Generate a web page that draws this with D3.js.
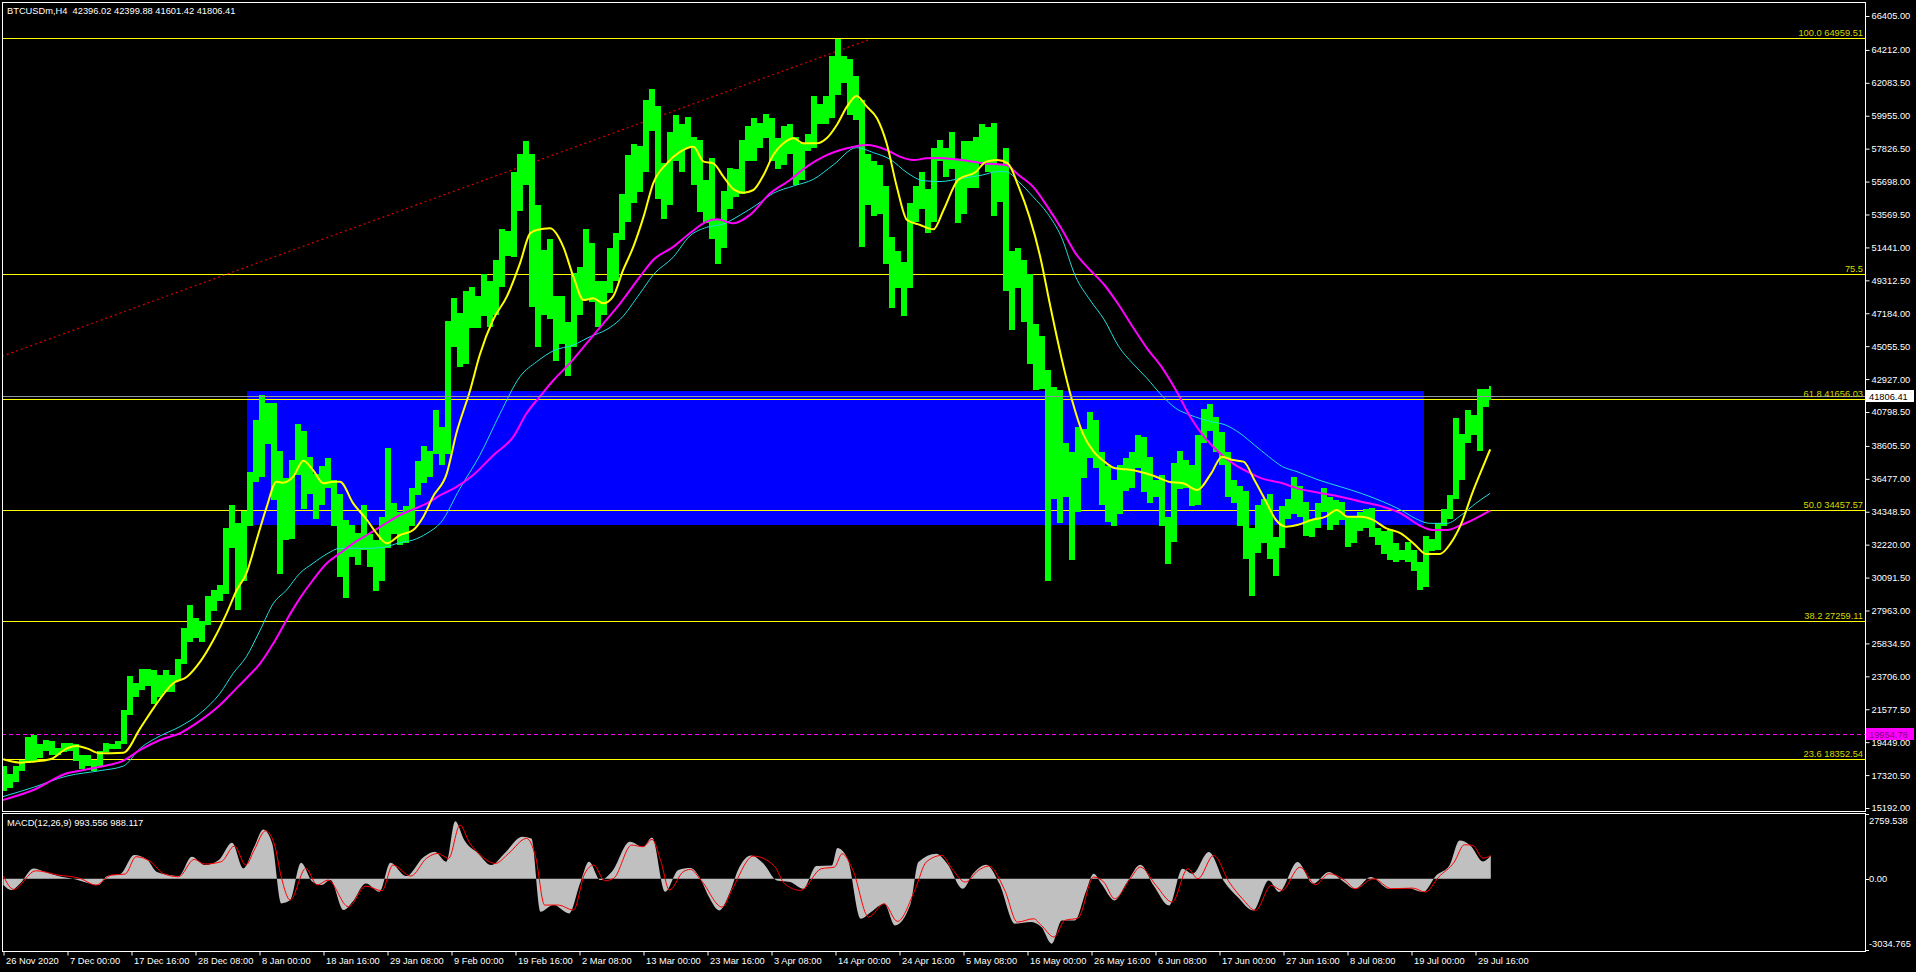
<!DOCTYPE html>
<html><head><meta charset="utf-8">
<script src="https://cdn.jsdelivr.net/npm/d3@7"></script>
<style>
html,body{margin:0;padding:0;background:#000;overflow:hidden;}
svg{display:block;}
text{font-family:"Liberation Sans",Arial,sans-serif;font-size:9.3px;fill:#fff;}
</style></head><body>
<svg id="chart" width="1916" height="972"></svg>
<script>
// ---------------- DATA ----------------
const symbolTitle = "BTCUSDm,H4  42396.02 42399.88 41601.42 41806.41";
const macdTitle = "MACD(12,26,9) 993.556 988.117";
const firstDay = "2020-11-26"; // daily index 0
// daily high / low (H4 bars grouped per day), index = days since 26 Nov 2020
const dayHigh = [
17900,17400,17900,18300,19800,19900,19350,19600,19500,19100,
19400,19400,19300,18600,18600,18300,18900,19400,19300,19500,
21500,23700,23300,24200,24200,24100,23800,24100,23800,24800,
26800,28300,27500,27300,28900,29300,29600,33300,34800,33600,
34400,36900,40300,41900,41400,41400,38300,36500,37700,40000,
39600,37900,36800,37300,37800,36400,35500,33800,33500,33000,
34800,32900,32500,34000,38500,34900,34300,34700,35900,37600,
38600,38300,40900,39800,46700,48200,47200,48600,48900,48300,
49700,49300,50600,52600,52500,56300,57500,58300,57500,54200,
51300,52000,48300,48300,46600,49800,50200,52600,51700,49300,
49300,51400,52400,54900,57400,58100,58000,61000,61700,60600,
56900,58900,60000,59400,59900,58600,58400,55800,57200,53200,
55100,56600,56500,58400,59300,59800,59500,60100,59800,58500,
59300,59400,58600,58200,58800,61200,60700,61200,63800,64900,
63800,63600,62500,61000,57500,57000,56800,55400,52100,51200,
50500,54300,55400,56300,55200,57900,58400,57900,58900,57100,
58300,58300,58600,59400,59200,59500,56800,57900,51200,51400,
50600,49700,46500,45700,43500,42400,42200,38800,38200,39800,
39700,40800,40300,38200,37300,36400,37400,37800,38200,39300,
39200,37900,36400,36700,34000,37500,38300,37700,37400,39300,
41000,41300,40500,39500,38200,36400,36000,35700,33300,34800,
35200,35500,32700,34700,35200,36600,36000,35000,33900,34900,
35900,35300,35100,35000,34000,34100,34300,34500,34600,33300,
33100,33200,32300,31900,32400,31900,31100,32800,32600,33600,
34500,35400,40400,39400,40900,40600,42300,42300,42450];
const dayLow = [
16300,16500,16900,17600,18100,18200,18400,18900,18600,18600,
18800,18900,18200,17700,17900,17600,17900,18800,19000,19000,
19300,21200,22400,22800,23100,21900,22400,22700,22700,23400,
24500,25900,26200,25900,27000,27900,28600,29000,32000,28000,
29900,33400,36300,36600,38700,35100,30300,32500,32600,36700,
34500,35500,33900,34800,35900,33400,30100,28800,31400,30900,
31900,30800,29200,29900,32000,32900,32200,32300,33400,35400,
36200,36600,38100,37400,38100,45000,43700,43900,46200,46200,
47000,46300,47100,48900,50900,50800,53800,55500,47600,45000,
47100,46800,44100,45200,43100,45000,47100,48100,47900,46300,
47100,48500,49300,51900,53100,54300,55000,56300,59000,54600,
53300,54200,57000,56300,57900,55500,53700,53000,52000,50400,
51400,53900,54700,54900,57000,57000,57900,58500,57000,56500,
56800,57500,55500,55800,57700,57900,59400,59400,59800,61300,
62100,60000,59700,51500,54200,53500,53600,50400,47500,48800,
47000,48800,53100,53900,52400,53100,57000,56000,56500,53000,
53600,55300,55300,56900,56300,53500,54400,48600,46100,48800,
46600,43900,42200,42300,29900,35200,33600,35300,31200,34300,
36500,37800,37200,34800,33700,33400,34200,35700,35900,37200,
35600,34900,35300,33400,31000,32400,35800,35900,34700,34800,
38800,39600,38200,37400,35300,34900,33400,31300,28900,31700,
32300,31300,30200,32000,33900,34200,34000,32800,32700,33300,
34300,33200,33500,33800,32100,32300,33100,33300,32700,32200,
31600,31200,31100,31200,31100,30500,29300,29500,31800,31900,
33400,33900,35200,36400,38800,39300,38300,41100,41600];

// moving averages: [day since 26 Nov 2020, price]
const yellowMA = [[0.4,18340],[3.2,18124],[5.4,18188],[8.2,18340],[11,19050],[12.6,19202],[14.3,19050],[16.5,18727],[20.4,18770],[23.2,20343],[25.4,21637],[28.7,23254],[31,23685],[33.2,24655],[35.4,26056],[37.6,27780],[39.3,29289],[40.9,30367],[42.6,32522],[44.3,34678],[45.9,36294],[47,36230],[48.7,36617],[50.4,37652],[52,37048],[53.7,36186],[55.4,36294],[56.5,36294],[58.7,34893],[61,33815],[62.6,32953],[64.3,32306],[66.5,32845],[68.7,33169],[70.4,34031],[72,35324],[74.3,36833],[75.9,39419],[78.2,42221],[79.8,44500],[82,46748],[84.3,48257],[86.5,50412],[88.2,52352],[89.3,52567],[91.5,52675],[93.7,51490],[95.4,49550],[97.1,48041],[98.7,48149],[100.4,47826],[102,48257],[103.7,49981],[105.4,51490],[107.1,53430],[108.7,55585],[111,56878],[113.2,57633],[115.4,57956],[117.1,56986],[118.7,56878],[120.4,56016],[122.1,55197],[123.7,54982],[125.4,55154],[127.1,56124],[128.7,57417],[130.4,58172],[132.1,58495],[133.7,58172],[136,58172],[137.6,58495],[139.3,59357],[141,60543],[142.6,61232],[144.3,60543],[146,59788],[147.6,58172],[149.3,55370],[151,53214],[153.2,52891],[155.4,52611],[157.1,53861],[159.5,55800],[162.5,56339],[164.2,56986],[166,57093],[167.8,56878],[169.6,55369],[171.4,53429],[173.2,50843],[174.9,47610],[176.7,44377],[178.5,41575],[180.3,39419],[182.1,38234],[183.9,37587],[185.7,37156],[187.5,37091],[189.8,36940],[192.2,36660],[194.6,36294],[197,36186],[199.4,35755],[201.7,36833],[203.5,37911],[205.3,37695],[207.1,37587],[208.9,36401],[210.7,35108],[212.5,33815],[214.2,33384],[216,33491],[218.4,33815],[220.8,34030],[222.6,34462],[224.4,34030],[226.7,34030],[228.5,33858],[230.9,33276],[233.3,32953],[235.7,32198],[237.5,31616],[239.8,31616],[241.6,32306],[243.4,33600],[245.2,35540],[247,37264],[248.2,38385]];
const cyanMA = [[0.3,15925],[5.4,16528],[11,17261],[16.5,17606],[20.4,17908],[23.2,19050],[26.5,19848],[29.8,20450],[33.2,21314],[36.5,22607],[38.7,23900],[40.9,24978],[43.2,26703],[45.4,28427],[47.6,29289],[49.8,30367],[52,31013],[54.3,31617],[56.5,31983],[58.7,31983],[61,31983],[63.7,32048],[66.5,32350],[68.7,32522],[71,32953],[73.3,33650],[76.5,35863],[79.8,38000],[83.2,40713],[86.5,43084],[89.3,44054],[92.1,44765],[95.4,45131],[98.2,45670],[101,46145],[103.2,46791],[106.5,48472],[108.7,49658],[112.1,50843],[114.8,52180],[117.6,52740],[120.4,52956],[123.2,53536],[125.9,54184],[128.7,54939],[132.1,55413],[135.4,55844],[138.7,56771],[142.6,57891],[145.4,57568],[148.2,57137],[151,56275],[153.7,55758],[156.5,55700],[160.1,55908],[163.6,56124],[166,56339],[167.5,56339],[169.6,55692],[172,54722],[174.4,53645],[176.7,52136],[179.1,49549],[181.5,48041],[183.9,46747],[186.3,45023],[188.6,43945],[191,42975],[193.4,41898],[195.8,41036],[198.2,40604],[201.7,40174],[204.1,39958],[206.5,39419],[208.9,38665],[211.3,37910],[213.6,37264],[216,36940],[219.6,36402],[223.2,35970],[226.7,35539],[230.3,35000],[233.3,34462],[235.7,33923],[238.1,33600],[241,33600],[243.4,34138],[245.8,34893],[248.2,35539]];
const magentaMA = [[0.3,15710],[5.4,16356],[11,17434],[13.7,17650],[16.5,17865],[20.4,18253],[23.2,18943],[26.5,19590],[29.8,20021],[33.2,20840],[36.5,21852],[38.7,22716],[40.9,23579],[43.2,24547],[45.4,25840],[47.6,27350],[49.8,28750],[52,29936],[54.3,31013],[56.5,31660],[58.7,32306],[61,32845],[63.7,33492],[66.5,34139],[68.7,34505],[71,34893],[73.3,35432],[75.5,35863],[78.7,36725],[82.1,38019],[85.4,39204],[87.6,40713],[89.8,41791],[92.1,42868],[94.8,43946],[97.6,45239],[100.4,46532],[103.2,47826],[106.5,49550],[108.7,50628],[112.1,51490],[114.8,52352],[117.6,53106],[119.3,53257],[122.1,52999],[124.8,53536],[128.2,54939],[131.5,55801],[134.3,56663],[137.1,57310],[141,57848],[144.3,58064],[147.6,57741],[149.8,57310],[152.1,57094],[154.3,57202],[156.5,57230],[160.1,57093],[163.6,56878],[167.5,56770],[169.6,56123],[172,55369],[174.4,54076],[176.7,52675],[179.1,51058],[181.5,49980],[183.9,49011],[186.3,47718],[188.6,46316],[191,44915],[193.4,43730],[195.8,42221],[198.2,40497],[200.5,39203],[202.9,38233],[205.3,37479],[207.7,36940],[210.1,36509],[213.6,36186],[216,35862],[219.6,35582],[223.2,35324],[226.7,35000],[230.3,34677],[233.3,34246],[236.3,33492],[238.6,33168],[241,33168],[243.4,33492],[245.8,33922],[248.2,34418]];

// MACD main (histogram) and signal: [day, value]
const macdMain = [[0.4,-268],[1.7,-481],[3.2,-197],[5.4,442],[7.3,300],[9.5,115],[12.5,-27],[14.7,-197],[16.2,-268],[17.7,115],[19.9,200],[22.2,1010],[24.4,797],[25.9,300],[28.1,158],[29.6,115],[31.8,939],[34,584],[36.3,797],[38.5,1535],[40.4,442],[42.2,1365],[43.7,2103],[45.2,1507],[46.7,-1049],[48.2,-907],[50,683],[51.9,-126],[53.4,-268],[54.9,-55],[57.1,-1333],[58.6,-978],[60.8,-197],[63.1,-552],[64.9,683],[67.5,115],[70.5,939],[72.3,1152],[74.2,726],[75.7,2450],[77.2,1649],[79.5,1081],[81.7,584],[83.9,1081],[86.9,1791],[88.4,1720],[89.9,-1404],[92.1,-1120],[94.7,-1475],[96.5,-197],[98,726],[99.9,-55],[101.8,300],[104.8,1578],[107,1365],[108.5,1763],[110.7,-552],[112.9,371],[114.9,455],[116.7,-70],[118,-780],[119.7,-1348],[121.5,-567],[122.8,356],[125,995],[127.1,640],[129.3,-70],[131.5,-141],[133.7,-425],[135.9,541],[138.5,569],[139.4,1307],[141.1,853],[143.3,-1703],[145,-1419],[147.2,-1064],[149,-1987],[151.6,-1064],[152.9,711],[155.9,1066],[157.7,640],[160.3,-425],[162,214],[164.2,597],[166.4,-212],[169,-1916],[171.6,-1845],[173.4,-2058],[175.1,-2769],[176.8,-1774],[179,-1774],[180.8,-567],[182.1,214],[183.4,-212],[185.6,-922],[187.7,-141],[189.9,597],[192.1,-283],[194.7,-1135],[196.9,427],[198.6,214],[201.3,1137],[203.9,-141],[206.1,-780],[208.7,-1348],[211.3,-70],[213,-567],[216.1,711],[218.7,-212],[221.3,285],[223.5,-70],[225.7,-425],[228.3,72],[231.3,-425],[234.4,-397],[237,-567],[239.2,143],[241.4,569],[243.1,1634],[244.9,1421],[247,739],[248.3,994]];
const macdSignal = [[0.4,115],[2.1,-453],[5.8,343],[9.5,158],[13.2,16],[15.8,-268],[18.4,158],[20.7,200],[22.5,939],[25.1,698],[27,229],[29.6,87],[32.2,825],[34,627],[36.7,726],[38.9,1393],[40.8,584],[42.2,1223],[44.1,2047],[45.6,1436],[46.7,87],[48.2,-907],[50.8,442],[52.7,-268],[54.5,-55],[57.9,-1191],[60.8,-311],[63.5,-509],[65.3,584],[68.3,115],[70.9,868],[72.8,1081],[74.6,868],[76.5,2288],[78,1578],[80.2,939],[82.4,655],[84.6,1081],[87.6,1720],[89.1,939],[90.6,-1120],[92.9,-1120],[95.4,-1333],[97.3,229],[98.8,584],[100.6,-83],[102.1,16],[105.1,1436],[107,1365],[108.5,1677],[110,726],[111.4,-481],[113.7,300],[114.9,399],[116.7,-70],[120.2,-1206],[121.9,-425],[125.4,967],[128.9,541],[130.6,-212],[133.3,-496],[136.7,427],[138.9,498],[140.2,1066],[142,356],[144.6,-1632],[147.2,-1064],[149.4,-1817],[152.4,-425],[154.2,711],[156.8,995],[158.5,427],[160.7,-141],[162.9,356],[164.6,541],[167.3,-496],[169.4,-1845],[172.1,-1703],[173.4,-1987],[175.5,-2484],[177.3,-1774],[179.5,-1675],[182.1,72],[183.8,-141],[185.6,-851],[188.2,1],[189.9,498],[192.5,-283],[195.2,-993],[197.8,427],[199.5,1],[202.1,995],[204.7,-141],[206.9,-851],[209.1,-1348],[211.7,-283],[213.5,-496],[216.5,498],[219.1,-255],[221.3,214],[224,-70],[225.7,-425],[228.7,1],[231.8,-425],[235.3,-397],[237.4,-567],[239.6,72],[242.2,711],[243.9,1449],[245.3,1421],[247,881],[248.3,988]];

// Fibonacci levels
const fibPrices = [64959.51, 49722, 41656.03, 34457.57, 27259.11, 18352.54];
const fibLabels = ["100.0 64959.51","75.5","61.8 41656.03","50.0 34457.57","38.2 27259.11","23.6 18352.54"];
// other objects
const bidPrice = 41806.41, bidLabel = "41806.41";
const hLinePrice = 19954.78, hLineLabel = "19954.78";
const zoneTimes = ["2021-01-06T00:00Z","2021-07-21T04:00Z"], zonePrices = [42156, 33492];
const trendTimes = ["2020-11-26T04:00Z","2021-04-19T20:00Z"], trendPrices = [44400, 64900];

// axis labels
const yTickLabels = ["66405.00","64212.00","62083.50","59955.00","57826.50","55698.00","53569.50","51441.00","49312.50","47184.00","45055.50","42927.00","40798.50","38605.50","36477.00","34348.50","32220.00","30091.50","27963.00","25834.50","23706.00","21577.50","19449.00","17320.50","15192.00"];
const xTickTimes = ["2020-11-26T08:00Z","2020-12-07T00:00Z","2020-12-17T16:00Z","2020-12-28T08:00Z","2021-01-08T00:00Z","2021-01-18T16:00Z","2021-01-29T08:00Z","2021-02-09T00:00Z","2021-02-19T16:00Z","2021-03-02T08:00Z","2021-03-13T00:00Z","2021-03-23T16:00Z","2021-04-03T08:00Z","2021-04-14T00:00Z","2021-04-24T16:00Z","2021-05-05T08:00Z","2021-05-16T00:00Z","2021-05-26T16:00Z","2021-06-06T08:00Z","2021-06-17T00:00Z","2021-06-27T16:00Z","2021-07-08T08:00Z","2021-07-19T00:00Z","2021-07-29T16:00Z"];
const xTickLabels = ["26 Nov 2020","7 Dec 00:00","17 Dec 16:00","28 Dec 08:00","8 Jan 00:00","18 Jan 16:00","29 Jan 08:00","9 Feb 00:00","19 Feb 16:00","2 Mar 08:00","13 Mar 00:00","23 Mar 16:00","3 Apr 08:00","14 Apr 00:00","24 Apr 16:00","5 May 08:00","16 May 00:00","26 May 16:00","6 Jun 08:00","17 Jun 00:00","27 Jun 16:00","8 Jul 08:00","19 Jul 00:00","29 Jul 16:00"];
const macdTickValues = [2759.538, 0, -3034.765];
const macdTickLabels = ["2759.538","0.00","-3034.765"];
const priceRange = [14998, 67310];
const macdRange = [-3034.765, 2759.538];

// ---------------- LAYOUT ----------------
const L = 2, R = 1865, T = 2, B = 811, MT = 813, MB = 951;
const HOUR = 3600e3, DAY = 864e5;
const t0 = Date.parse(firstDay + "T00:00Z");
const firstBar = t0 + 8 * HOUR;
const lastBarEnd = t0 + (248 * 24 + 8) * HOUR;
const dayDate = d => new Date(t0 + d * DAY);

const x = d3.scaleUtc().domain([new Date(t0), new Date(t0 + 1864 * 4 * HOUR)]).range([1, R]);
const y = d3.scaleLinear().domain(priceRange).range([B, T]);
const ym = d3.scaleLinear().domain(macdRange).range([MB - 1, MT + 1]);

const svg = d3.select("#chart");
svg.append("rect").attr("width", 1916).attr("height", 972).attr("fill", "#000");
const defs = svg.append("defs");
defs.append("clipPath").attr("id", "clipMain").append("rect")
  .attr("x", L + 1).attr("y", T + 1).attr("width", R - L - 1).attr("height", B - T - 1);
defs.append("clipPath").attr("id", "clipMacd").append("rect")
  .attr("x", L + 1).attr("y", MT + 1).attr("width", R - L - 1).attr("height", MB - MT - 1);

const main = svg.append("g").attr("clip-path", "url(#clipMain)");

// zone rectangle
main.append("rect")
  .attr("x", x(new Date(zoneTimes[0]))).attr("width", x(new Date(zoneTimes[1])) - x(new Date(zoneTimes[0])))
  .attr("y", y(zonePrices[0])).attr("height", y(zonePrices[1]) - y(zonePrices[0]))
  .attr("fill", "#0000ff").attr("shape-rendering", "crispEdges");

// fib lines
main.selectAll("line.fib").data(fibPrices).join("line")
  .attr("x1", L).attr("x2", R)
  .attr("y1", d => Math.round(y(d)) + 0.5).attr("y2", d => Math.round(y(d)) + 0.5)
  .attr("stroke", "#ffff00").attr("stroke-width", 1).attr("shape-rendering", "crispEdges");

// magenta dashed horizontal line
main.append("line").attr("x1", L).attr("x2", R)
  .attr("y1", Math.round(y(hLinePrice)) + 0.5).attr("y2", Math.round(y(hLinePrice)) + 0.5)
  .attr("stroke", "#ff00ff").attr("stroke-dasharray", "4,3").attr("shape-rendering", "crispEdges");

// trend line
main.append("line")
  .attr("x1", x(new Date(trendTimes[0]))).attr("y1", y(trendPrices[0]))
  .attr("x2", x(new Date(trendTimes[1]))).attr("y2", y(trendPrices[1]))
  .attr("stroke", "#e00000").attr("stroke-width", 1.2).attr("stroke-dasharray", "2,3");

// price bars (daily groups of H4 bars)
const days = dayHigh.map((h, i) => ({ i, h, l: dayLow[i] }));
main.selectAll("rect.bar").data(days).join("rect")
  .attr("class", "bar")
  .attr("x", d => x(new Date(Math.max(t0 + d.i * DAY, firstBar))))
  .attr("width", d => x(new Date(Math.min(t0 + (d.i + 1) * DAY, lastBarEnd))) - x(new Date(Math.max(t0 + d.i * DAY, firstBar))))
  .attr("y", d => y(d.h)).attr("height", d => Math.max(1, y(d.l) - y(d.h)))
  .attr("fill", "#00ff00").attr("shape-rendering", "crispEdges");

// moving averages
const maLine = d3.line().x(p => x(dayDate(p[0]))).y(p => y(p[1])).curve(d3.curveMonotoneX);
main.append("path").attr("d", maLine(cyanMA)).attr("fill", "none").attr("stroke", "#22dddd").attr("stroke-width", 1);
main.append("path").attr("d", maLine(magentaMA)).attr("fill", "none").attr("stroke", "#ff00ff").attr("stroke-width", 2);
main.append("path").attr("d", maLine(yellowMA)).attr("fill", "none").attr("stroke", "#ffff00").attr("stroke-width", 2);

// bid line
main.append("line").attr("x1", L).attr("x2", R)
  .attr("y1", Math.round(y(bidPrice)) + 0.5).attr("y2", Math.round(y(bidPrice)) + 0.5)
  .attr("stroke", "#8c96a0").attr("shape-rendering", "crispEdges");

// fib labels
svg.selectAll("text.fibl").data(fibPrices).join("text")
  .attr("x", R - 2).attr("y", d => Math.round(y(d)) - 2)
  .attr("text-anchor", "end").style("fill", "#d8d800")
  .text((d, i) => fibLabels[i]);

// header
svg.append("text").attr("x", 7).attr("y", 14).attr("xml:space", "preserve").style("white-space", "pre").text(symbolTitle);

// ---- MACD panel ----
const macdG = svg.append("g").attr("clip-path", "url(#clipMacd)");
const area = d3.area().x(p => x(dayDate(p[0]))).y0(ym(0)).y1(p => ym(p[1])).curve(d3.curveMonotoneX);
macdG.append("path").attr("d", area(macdMain)).attr("fill", "#c0c0c0");
const sigLine = d3.line().x(p => x(dayDate(p[0]))).y(p => ym(p[1])).curve(d3.curveMonotoneX);
macdG.append("path").attr("d", sigLine(macdSignal)).attr("fill", "none").attr("stroke", "#ff0000").attr("stroke-width", 1);
svg.append("text").attr("x", 7).attr("y", 826).text(macdTitle);

// panel borders
svg.append("rect").attr("x", L + 0.5).attr("y", T + 0.5).attr("width", R - L).attr("height", B - T)
  .attr("fill", "none").attr("stroke", "#fff").attr("shape-rendering", "crispEdges");
svg.append("rect").attr("x", L + 0.5).attr("y", MT + 0.5).attr("width", R - L).attr("height", MB - MT)
  .attr("fill", "none").attr("stroke", "#fff").attr("shape-rendering", "crispEdges");

// price axis
const yAxis = d3.axisRight(y).tickValues(yTickLabels.map(Number)).tickFormat((d, i) => yTickLabels[i]).tickSize(4).tickPadding(2);
const yg = svg.append("g").attr("transform", `translate(${R + 0.5},0)`).call(yAxis);
yg.select(".domain").remove();
yg.selectAll("line").attr("stroke", "#fff");
yg.selectAll("text").attr("fill", "#fff").style("font-size", "9.3px").style("font-family", '"Liberation Sans",Arial,sans-serif');

// price label boxes
function priceBox(price, label, bg, fg) {
  const cy = Math.round(y(price));
  svg.append("rect").attr("x", R + 1).attr("y", cy - 6).attr("width", 48).attr("height", 12).attr("fill", bg);
  svg.append("text").attr("x", R + 4).attr("y", cy + 3.5).style("fill", fg).text(label);
}
priceBox(bidPrice, bidLabel, "#ffffff", "#000000");
priceBox(hLinePrice, hLineLabel, "#ff00ff", "#800080");

// MACD axis
const mg = svg.append("g");
mg.selectAll("line").data(macdTickValues).join("line")
  .attr("x1", R).attr("x2", R + 4).attr("y1", d => Math.round(ym(d)) + 0.5).attr("y2", d => Math.round(ym(d)) + 0.5)
  .attr("stroke", "#fff");
mg.selectAll("text").data(macdTickValues).join("text")
  .attr("x", R + 4)
  .attr("y", (d, i) => ym(d) + (i === 0 ? 10 : i === 2 ? -3 : 3.5))
  .text((d, i) => macdTickLabels[i]);

// time axis
const xAxis = d3.axisBottom(x).tickValues(xTickTimes.map(s => new Date(s))).tickFormat((d, i) => xTickLabels[i]).tickSize(4).tickPadding(2);
const xg = svg.append("g").attr("transform", `translate(0.5,${MB + 0.5})`).call(xAxis);
xg.select(".domain").remove();
xg.selectAll("line").attr("stroke", "#fff");
xg.selectAll("text").attr("fill", "#fff").attr("text-anchor", "start").attr("dx", "2")
  .style("font-size", "9.3px").style("font-family", '"Liberation Sans",Arial,sans-serif');
</script></body></html>
